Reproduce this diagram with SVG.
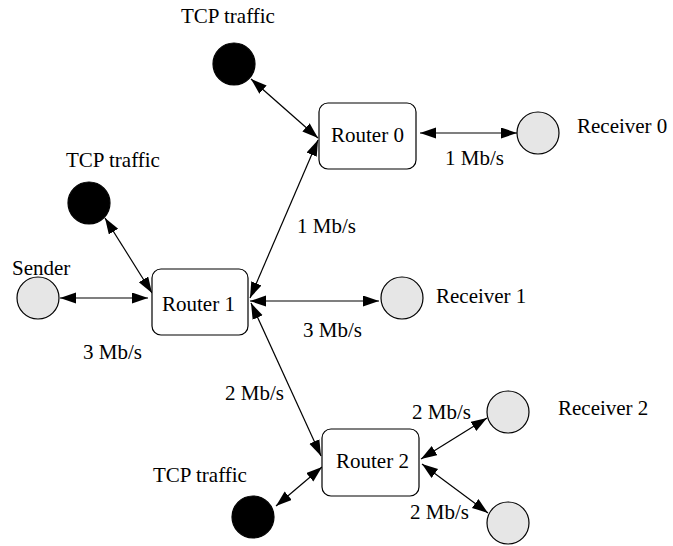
<svg xmlns="http://www.w3.org/2000/svg" width="673" height="546" viewBox="0 0 673 546">
<style>
text{font-family:"Liberation Serif","Times New Roman",serif;font-size:21px;fill:#000}
.box{fill:#fff;stroke:#000;stroke-width:1.2}
.host{fill:#e6e6e6;stroke:#000;stroke-width:1.2}
.tcp{fill:#000;stroke:#000;stroke-width:1.2}
.edge{stroke:#000;stroke-width:1.2;fill:none;marker-start:url(#ah);marker-end:url(#ah)}
</style>
<defs>
<marker id="ah" markerUnits="userSpaceOnUse" markerWidth="17" markerHeight="12" refX="16" refY="5.5" orient="auto-start-reverse">
<path d="M0,0 L16,5.5 L0,11 z" fill="#000"/>
</marker>
</defs>
<rect width="673" height="546" fill="#fff"/>
<g id="connectors">
<line class="edge" x1="251" y1="79" x2="318" y2="138"/>
<line class="edge" x1="318" y1="140" x2="250" y2="298"/>
<line class="edge" x1="420" y1="133" x2="517" y2="133"/>
<line class="edge" x1="105" y1="218" x2="152" y2="293"/>
<line class="edge" x1="60" y1="298" x2="148" y2="298"/>
<line class="edge" x1="250" y1="301" x2="379" y2="301"/>
<line class="edge" x1="251" y1="303" x2="321" y2="456"/>
<line class="edge" x1="276" y1="506" x2="322" y2="467"/>
<line class="edge" x1="421" y1="459" x2="487" y2="418"/>
<line class="edge" x1="422" y1="464" x2="488" y2="513"/>
</g>
<g id="router0"><rect class="box" x="319" y="103" width="97" height="66" rx="9"/><text x="331" y="142" font-family="Liberation Serif, serif">Router 0</text></g>
<g id="router1"><rect class="box" x="152" y="269" width="96" height="66" rx="9"/><text x="162" y="311" font-family="Liberation Serif, serif">Router 1</text></g>
<g id="router2"><rect class="box" x="322" y="429" width="97" height="67" rx="9"/><text x="336" y="468" font-family="Liberation Serif, serif">Router 2</text></g>
<g id="tcp0"><circle class="tcp" cx="234" cy="64" r="21"/><text x="181" y="23" font-family="Liberation Serif, serif">TCP traffic</text></g>
<g id="tcp1"><circle class="tcp" cx="89" cy="203" r="21"/><text x="66" y="167" font-family="Liberation Serif, serif">TCP traffic</text></g>
<g id="tcp2"><circle class="tcp" cx="253" cy="517" r="21"/><text x="153" y="482" font-family="Liberation Serif, serif">TCP traffic</text></g>
<g id="sender"><circle class="host" cx="38" cy="298" r="21"/><text x="12" y="275" font-family="Liberation Serif, serif">Sender</text></g>
<g id="receiver0"><circle class="host" cx="538" cy="133" r="21"/><text x="577" y="133" font-family="Liberation Serif, serif">Receiver 0</text></g>
<g id="receiver1"><circle class="host" cx="402" cy="298" r="21"/><text x="436" y="303" font-family="Liberation Serif, serif">Receiver 1</text></g>
<g id="receiver2"><circle class="host" cx="508" cy="412" r="21"/><text x="558" y="415" font-family="Liberation Serif, serif">Receiver 2</text></g>
<g id="receiver3"><circle class="host" cx="508" cy="523" r="21"/></g>
<g id="labels" font-family="Liberation Serif, serif">
<text x="445" y="165">1 Mb/s</text>
<text x="297" y="233">1 Mb/s</text>
<text x="303" y="337">3 Mb/s</text>
<text x="83" y="359">3 Mb/s</text>
<text x="225" y="400">2 Mb/s</text>
<text x="412" y="419">2 Mb/s</text>
<text x="410" y="519">2 Mb/s</text>
</g>
</svg>
